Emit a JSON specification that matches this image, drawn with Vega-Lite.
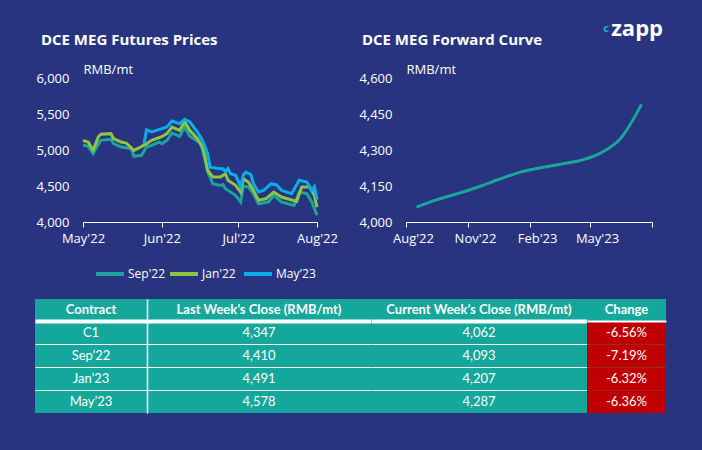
{
  "$schema": "https://vega.github.io/schema/vega-lite/v6.json",
  "background": "#283480",
  "padding": {"left": 35, "top": 18, "right": 40, "bottom": 40},
  "config": {
    "view": {"stroke": null},
    "font": "Open Sans",
    "axis": {"labelColor": "white", "labelFontSize": 13, "labelFont": "Open Sans", "titleColor": "white", "titleFontWeight": "normal", "titleFontSize": 13, "titleFont": "Open Sans", "grid": false},
    "title": {"color": "white", "fontSize": 15, "fontWeight": "bold", "anchor": "start", "font": "Open Sans"}
  },
  "datasets": {
    "futures": [
      {"date": "2022/05/01", "contract": "Sep'22", "price": 5070},
      {"date": "2022/05/03", "contract": "Sep'22", "price": 5051},
      {"date": "2022/05/05", "contract": "Sep'22", "price": 4949},
      {"date": "2022/05/06", "contract": "Sep'22", "price": 5019},
      {"date": "2022/05/08", "contract": "Sep'22", "price": 5134},
      {"date": "2022/05/12", "contract": "Sep'22", "price": 5148},
      {"date": "2022/05/13", "contract": "Sep'22", "price": 5088},
      {"date": "2022/05/16", "contract": "Sep'22", "price": 5042},
      {"date": "2022/05/20", "contract": "Sep'22", "price": 5019},
      {"date": "2022/05/21", "contract": "Sep'22", "price": 4912},
      {"date": "2022/05/24", "contract": "Sep'22", "price": 4926},
      {"date": "2022/05/26", "contract": "Sep'22", "price": 5042},
      {"date": "2022/05/28", "contract": "Sep'22", "price": 5065},
      {"date": "2022/05/31", "contract": "Sep'22", "price": 5111},
      {"date": "2022/06/01", "contract": "Sep'22", "price": 5088},
      {"date": "2022/06/03", "contract": "Sep'22", "price": 5134},
      {"date": "2022/06/05", "contract": "Sep'22", "price": 5236},
      {"date": "2022/06/08", "contract": "Sep'22", "price": 5190},
      {"date": "2022/06/10", "contract": "Sep'22", "price": 5319},
      {"date": "2022/06/12", "contract": "Sep'22", "price": 5190},
      {"date": "2022/06/16", "contract": "Sep'22", "price": 5097},
      {"date": "2022/06/17", "contract": "Sep'22", "price": 5000},
      {"date": "2022/06/19", "contract": "Sep'22", "price": 4700},
      {"date": "2022/06/21", "contract": "Sep'22", "price": 4532},
      {"date": "2022/06/24", "contract": "Sep'22", "price": 4509},
      {"date": "2022/06/25", "contract": "Sep'22", "price": 4520},
      {"date": "2022/06/26", "contract": "Sep'22", "price": 4463},
      {"date": "2022/06/30", "contract": "Sep'22", "price": 4370},
      {"date": "2022/07/02", "contract": "Sep'22", "price": 4278},
      {"date": "2022/07/03", "contract": "Sep'22", "price": 4500},
      {"date": "2022/07/05", "contract": "Sep'22", "price": 4486},
      {"date": "2022/07/06", "contract": "Sep'22", "price": 4440},
      {"date": "2022/07/07", "contract": "Sep'22", "price": 4393},
      {"date": "2022/07/09", "contract": "Sep'22", "price": 4254},
      {"date": "2022/07/13", "contract": "Sep'22", "price": 4278},
      {"date": "2022/07/15", "contract": "Sep'22", "price": 4370},
      {"date": "2022/07/18", "contract": "Sep'22", "price": 4278},
      {"date": "2022/07/23", "contract": "Sep'22", "price": 4231},
      {"date": "2022/07/25", "contract": "Sep'22", "price": 4416},
      {"date": "2022/07/28", "contract": "Sep'22", "price": 4393},
      {"date": "2022/07/30", "contract": "Sep'22", "price": 4278},
      {"date": "2022/08/01", "contract": "Sep'22", "price": 4093},
      {"date": "2022/05/01", "contract": "Jan'22", "price": 5134},
      {"date": "2022/05/03", "contract": "Jan'22", "price": 5111},
      {"date": "2022/05/05", "contract": "Jan'22", "price": 4995},
      {"date": "2022/05/06", "contract": "Jan'22", "price": 5088},
      {"date": "2022/05/07", "contract": "Jan'22", "price": 5180},
      {"date": "2022/05/08", "contract": "Jan'22", "price": 5218},
      {"date": "2022/05/12", "contract": "Jan'22", "price": 5227},
      {"date": "2022/05/13", "contract": "Jan'22", "price": 5157},
      {"date": "2022/05/16", "contract": "Jan'22", "price": 5111},
      {"date": "2022/05/18", "contract": "Jan'22", "price": 5097},
      {"date": "2022/05/21", "contract": "Jan'22", "price": 4995},
      {"date": "2022/05/23", "contract": "Jan'22", "price": 5028},
      {"date": "2022/05/26", "contract": "Jan'22", "price": 5088},
      {"date": "2022/05/28", "contract": "Jan'22", "price": 5134},
      {"date": "2022/06/01", "contract": "Jan'22", "price": 5185},
      {"date": "2022/06/03", "contract": "Jan'22", "price": 5227},
      {"date": "2022/06/05", "contract": "Jan'22", "price": 5319},
      {"date": "2022/06/08", "contract": "Jan'22", "price": 5273},
      {"date": "2022/06/10", "contract": "Jan'22", "price": 5389},
      {"date": "2022/06/12", "contract": "Jan'22", "price": 5273},
      {"date": "2022/06/15", "contract": "Jan'22", "price": 5157},
      {"date": "2022/06/17", "contract": "Jan'22", "price": 5042},
      {"date": "2022/06/18", "contract": "Jan'22", "price": 4903},
      {"date": "2022/06/19", "contract": "Jan'22", "price": 4720},
      {"date": "2022/06/21", "contract": "Jan'22", "price": 4625},
      {"date": "2022/06/24", "contract": "Jan'22", "price": 4625},
      {"date": "2022/06/26", "contract": "Jan'22", "price": 4671},
      {"date": "2022/06/27", "contract": "Jan'22", "price": 4579},
      {"date": "2022/06/30", "contract": "Jan'22", "price": 4509},
      {"date": "2022/07/02", "contract": "Jan'22", "price": 4416},
      {"date": "2022/07/03", "contract": "Jan'22", "price": 4600},
      {"date": "2022/07/05", "contract": "Jan'22", "price": 4555},
      {"date": "2022/07/07", "contract": "Jan'22", "price": 4440},
      {"date": "2022/07/09", "contract": "Jan'22", "price": 4301},
      {"date": "2022/07/12", "contract": "Jan'22", "price": 4324},
      {"date": "2022/07/15", "contract": "Jan'22", "price": 4416},
      {"date": "2022/07/18", "contract": "Jan'22", "price": 4347},
      {"date": "2022/07/24", "contract": "Jan'22", "price": 4287},
      {"date": "2022/07/26", "contract": "Jan'22", "price": 4486},
      {"date": "2022/07/29", "contract": "Jan'22", "price": 4486},
      {"date": "2022/07/31", "contract": "Jan'22", "price": 4370},
      {"date": "2022/08/01", "contract": "Jan'22", "price": 4207},
      {"date": "2022/05/25", "contract": "May'23", "price": 5090},
      {"date": "2022/05/26", "contract": "May'23", "price": 5282},
      {"date": "2022/05/28", "contract": "May'23", "price": 5250},
      {"date": "2022/06/01", "contract": "May'23", "price": 5296},
      {"date": "2022/06/03", "contract": "May'23", "price": 5319},
      {"date": "2022/06/05", "contract": "May'23", "price": 5403},
      {"date": "2022/06/08", "contract": "May'23", "price": 5365},
      {"date": "2022/06/10", "contract": "May'23", "price": 5426},
      {"date": "2022/06/12", "contract": "May'23", "price": 5389},
      {"date": "2022/06/15", "contract": "May'23", "price": 5250},
      {"date": "2022/06/17", "contract": "May'23", "price": 5134},
      {"date": "2022/06/19", "contract": "May'23", "price": 4949},
      {"date": "2022/06/20", "contract": "May'23", "price": 4760},
      {"date": "2022/06/24", "contract": "May'23", "price": 4741},
      {"date": "2022/06/25", "contract": "May'23", "price": 4741},
      {"date": "2022/06/26", "contract": "May'23", "price": 4700},
      {"date": "2022/06/27", "contract": "May'23", "price": 4740},
      {"date": "2022/06/28", "contract": "May'23", "price": 4671},
      {"date": "2022/06/30", "contract": "May'23", "price": 4648},
      {"date": "2022/07/02", "contract": "May'23", "price": 4491},
      {"date": "2022/07/03", "contract": "May'23", "price": 4650},
      {"date": "2022/07/04", "contract": "May'23", "price": 4694},
      {"date": "2022/07/06", "contract": "May'23", "price": 4660},
      {"date": "2022/07/07", "contract": "May'23", "price": 4532},
      {"date": "2022/07/09", "contract": "May'23", "price": 4416},
      {"date": "2022/07/11", "contract": "May'23", "price": 4440},
      {"date": "2022/07/14", "contract": "May'23", "price": 4532},
      {"date": "2022/07/16", "contract": "May'23", "price": 4518},
      {"date": "2022/07/18", "contract": "May'23", "price": 4440},
      {"date": "2022/07/22", "contract": "May'23", "price": 4393},
      {"date": "2022/07/25", "contract": "May'23", "price": 4579},
      {"date": "2022/07/28", "contract": "May'23", "price": 4555},
      {"date": "2022/07/30", "contract": "May'23", "price": 4440},
      {"date": "2022/07/31", "contract": "May'23", "price": 4491},
      {"date": "2022/08/01", "contract": "May'23", "price": 4310}
    ],
    "curve": [
      {"month": "2022/08/01", "price": 4062},
      {"month": "2022/09/01", "price": 4093},
      {"month": "2022/10/01", "price": 4118},
      {"month": "2022/11/01", "price": 4146},
      {"month": "2022/12/01", "price": 4177},
      {"month": "2023/01/01", "price": 4207},
      {"month": "2023/02/01", "price": 4225},
      {"month": "2023/03/01", "price": 4240},
      {"month": "2023/04/01", "price": 4256},
      {"month": "2023/05/01", "price": 4287},
      {"month": "2023/06/01", "price": 4350},
      {"month": "2023/07/01", "price": 4490}
    ],
    "table": [
      {"Contract": "C1", "Last": 4347, "Current": 4062, "Change": "-6.56%"},
      {"Contract": "Sep’22", "Last": 4410, "Current": 4093, "Change": "-7.19%"},
      {"Contract": "Jan’23", "Last": 4491, "Current": 4207, "Change": "-6.32%"},
      {"Contract": "May’23", "Last": 4578, "Current": 4287, "Change": "-6.36%"}
    ]
  },
  "title": {"text": "zapp", "anchor": "end", "fontSize": 22, "fontWeight": "bold", "color": "white", "font": "Open Sans", "offset": -18, "dx": -3},
  "columns": 1,
  "align": "none",
  "spacing": 54,
  "concat": [
    {
      "title": {"text": "c", "anchor": "end", "fontSize": 11, "fontWeight": "bold", "color": "#29ABE2", "font": "Open Sans", "offset": -1, "dx": -50},
      "spacing": -1,
      "hconcat": [
        {
          "width": 1, "height": 1,
          "data": {"values": [{}]},
          "mark": {"type": "text", "text": ""},
          "encoding": {}
        },
        {
          "spacing": 20,
          "hconcat": [
            {
              "width": 234,
              "height": 144,
              "title": {"text": "DCE MEG Futures Prices", "dx": 5, "offset": 15},
              "data": {"name": "futures"},
              "mark": {"type": "line", "strokeWidth": 3},
              "encoding": {
                "x": {
                  "field": "date", "type": "temporal",
                  "scale": {"domain": [{"year": 2022, "month": 5, "date": 1}, {"year": 2022, "month": 8, "date": 1}]},
                  "axis": {
                    "title": null,
                    "values": [{"year": 2022, "month": 5, "date": 1}, {"year": 2022, "month": 6, "date": 1}, {"year": 2022, "month": 7, "date": 1}, {"year": 2022, "month": 8, "date": 1}],
                    "format": "%b'%y", "domainColor": "white", "tickColor": "white", "tickSize": 5, "labelPadding": 5,
                    "labelFlush": false, "labelOverlap": false
                  }
                },
                "y": {
                  "field": "price", "type": "quantitative",
                  "scale": {"domain": [4000, 6000], "nice": false, "zero": false},
                  "axis": {
                    "values": [4000, 4500, 5000, 5500, 6000], "format": ",.0f",
                    "title": "RMB/mt", "titleAngle": 0, "titleAlign": "left", "titleBaseline": "middle", "titleX": 0, "titleY": -9,
                    "domain": false, "ticks": false, "labelPadding": 14
                  }
                },
                "color": {
                  "field": "contract", "type": "nominal",
                  "scale": {"domain": ["Sep'22", "Jan'22", "May'23"], "range": ["#1BA39C", "#8DC63F", "#0AAEEA"]},
                  "legend": {
                    "title": null, "orient": "none", "direction": "horizontal", "legendX": 59, "legendY": 180,
                    "columns": 3, "gridAlign": "all",
                    "symbolType": "stroke", "symbolStrokeWidth": 4, "symbolSize": 780,
                    "labelColor": "white", "labelFontSize": 12, "labelFont": "Open Sans", "columnPadding": -10, "labelOffset": 2
                  }
                }
              }
            },
            {
              "width": 246,
              "height": 144,
              "title": {"text": "DCE MEG Forward Curve", "dx": 3, "offset": 15},
              "data": {"name": "curve"},
              "mark": {"type": "line", "strokeWidth": 3, "interpolate": "monotone", "color": "#1AA59A"},
              "encoding": {
                "x": {
                  "field": "month", "timeUnit": "yearmonth", "type": "temporal", "bandPosition": 0.5,
                  "scale": {"domain": [{"year": 2022, "month": 8, "date": 1}, {"year": 2023, "month": 8, "date": 1}]},
                  "axis": {
                    "title": null,
                    "values": [{"year": 2022, "month": 8, "date": 1}, {"year": 2022, "month": 11, "date": 1}, {"year": 2023, "month": 2, "date": 1}, {"year": 2023, "month": 5, "date": 1}, {"year": 2023, "month": 8, "date": 1}],
                    "labelExpr": "year(datum.value) == 2023 && month(datum.value) == 7 ? '' : timeFormat(datum.value, \"%b'%y\")",
                    "labelOffset": 7, "domainColor": "white", "tickColor": "white", "tickSize": 5, "labelPadding": 5,
                    "labelFlush": false, "labelOverlap": false
                  }
                },
                "y": {
                  "field": "price", "type": "quantitative",
                  "scale": {"domain": [4000, 4600], "nice": false, "zero": false},
                  "axis": {
                    "values": [4000, 4150, 4300, 4450, 4600], "format": ",.0f",
                    "title": "RMB/mt", "titleAngle": 0, "titleAlign": "left", "titleBaseline": "middle", "titleX": 0, "titleY": -9,
                    "domain": false, "ticks": false, "labelPadding": 14
                  }
                }
              }
            }
          ]
        }
      ]
    },
    {
      "spacing": 0,
      "hconcat": [
        {
          "width": 112, "height": 114,
          "view": {"fill": "#14A89D"},
          "data": {"name": "table"},
          "encoding": {
            "y": {
              "field": "Contract", "type": "nominal",
              "scale": {"domain": ["Header", "C1", "Sep’22", "Jan’23", "May’23"], "paddingInner": 0, "paddingOuter": 0},
              "axis": {"title": null, "labels": false, "ticks": false, "domain": false, "grid": true, "gridColor": "white", "bandPosition": 0,
                "gridWidth": {"condition": {"test": "datum.value === 'C1'", "value": 4}, "value": 1},
                "gridOpacity": {"condition": {"test": "datum.value === 'Header'", "value": 0}, "value": 1}}
            }
          },
          "layer": [
            {"data": {"values": [{}]}, "mark": {"type": "rect", "fill": "#14A89D"}, "encoding": {"y": {"datum": "Header", "type": "nominal"}}},
            {"mark": {"type": "text", "color": "white", "fontSize": 13, "font": "Lato"}, "encoding": {"text": {"field": "Contract", "type": "nominal"}}},
            {"data": {"values": [{}]}, "mark": {"type": "text", "color": "white", "fontSize": 13, "fontWeight": "bold", "font": "Lato", "text": "Contract"}, "encoding": {"y": {"datum": "Header", "type": "nominal"}}}
          ]
        },
        {
          "width": 224, "height": 114,
          "view": {"fill": "#14A89D"},
          "data": {"name": "table"},
          "encoding": {
            "y": {
              "field": "Contract", "type": "nominal",
              "scale": {"domain": ["Header", "C1", "Sep’22", "Jan’23", "May’23"], "paddingInner": 0, "paddingOuter": 0},
              "axis": {"title": null, "labels": false, "ticks": false, "domain": true, "domainColor": "white", "domainWidth": 1.5, "grid": true, "gridColor": "white", "bandPosition": 0,
                "gridWidth": {"condition": {"test": "datum.value === 'C1'", "value": 4}, "value": 1},
                "gridOpacity": {"condition": {"test": "datum.value === 'Header'", "value": 0}, "value": 1}}
            }
          },
          "layer": [
            {"data": {"values": [{}]}, "mark": {"type": "rect", "fill": "#14A89D"}, "encoding": {"y": {"datum": "Header", "type": "nominal"}}},
            {"mark": {"type": "text", "color": "white", "fontSize": 13, "font": "Lato"}, "encoding": {"text": {"field": "Last", "type": "quantitative", "format": ",.0f"}}},
            {"data": {"values": [{}]}, "mark": {"type": "text", "color": "white", "fontSize": 13, "fontWeight": "bold", "font": "Lato", "text": "Last Week’s Close (RMB/mt)"}, "encoding": {"y": {"datum": "Header", "type": "nominal"}}}
          ]
        },
        {
          "width": 216, "height": 114,
          "view": {"fill": "#14A89D"},
          "data": {"name": "table"},
          "encoding": {
            "y": {
              "field": "Contract", "type": "nominal",
              "scale": {"domain": ["Header", "C1", "Sep’22", "Jan’23", "May’23"], "paddingInner": 0, "paddingOuter": 0},
              "axis": {"title": null, "labels": false, "ticks": false, "domain": false, "grid": true, "gridColor": "white", "bandPosition": 0,
                "gridWidth": {"condition": {"test": "datum.value === 'C1'", "value": 4}, "value": 1},
                "gridOpacity": {"condition": {"test": "datum.value === 'Header'", "value": 0}, "value": 1}}
            }
          },
          "layer": [
            {"data": {"values": [{}]}, "mark": {"type": "rect", "fill": "#14A89D"}, "encoding": {"y": {"datum": "Header", "type": "nominal"}}},
            {"mark": {"type": "text", "color": "white", "fontSize": 13, "font": "Lato"}, "encoding": {"text": {"field": "Current", "type": "quantitative", "format": ",.0f"}}},
            {"data": {"values": [{}]}, "mark": {"type": "text", "color": "white", "fontSize": 13, "fontWeight": "bold", "font": "Lato", "text": "Current Week’s Close (RMB/mt)"}, "encoding": {"y": {"datum": "Header", "type": "nominal"}}}
          ]
        },
        {
          "width": 79, "height": 114,
          "view": {"fill": "#14A89D"},
          "data": {"name": "table"},
          "encoding": {
            "y": {
              "field": "Contract", "type": "nominal",
              "scale": {"domain": ["Header", "C1", "Sep’22", "Jan’23", "May’23"], "paddingInner": 0, "paddingOuter": 0},
              "axis": {"title": null, "labels": false, "ticks": false, "domain": false, "grid": true, "gridColor": "white", "bandPosition": 0, "zindex": 1,
                "gridWidth": 2,
                "gridOpacity": {"condition": {"test": "datum.value === 'C1'", "value": 1}, "value": 0}}
            }
          },
          "layer": [
            {"mark": {"type": "rect", "fill": "#C00000"}},
            {"mark": {"type": "text", "color": "white", "fontSize": 13, "font": "Lato"}, "encoding": {"text": {"field": "Change", "type": "nominal"}}},
            {"data": {"values": [{}]}, "mark": {"type": "text", "color": "white", "fontSize": 13, "fontWeight": "bold", "font": "Lato", "text": "Change"}, "encoding": {"y": {"datum": "Header", "type": "nominal"}}}
          ]
        }
      ]
    }
  ]
}
